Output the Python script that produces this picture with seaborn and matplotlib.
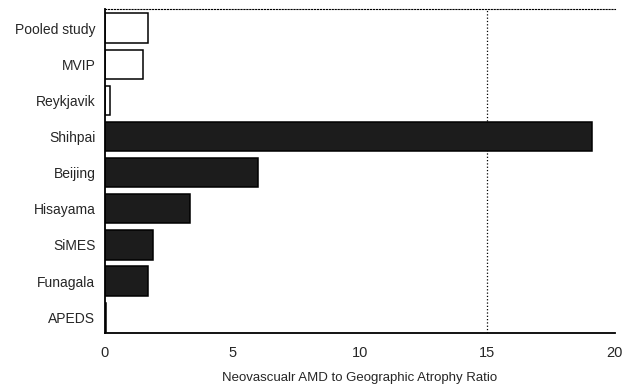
import matplotlib
matplotlib.use("Agg")
import matplotlib.pyplot as plt
import seaborn as sns
import pandas as pd

studies = ["Pooled study", "MVIP", "Reykjavik", "Shihpai", "Beijing",
           "Hisayama", "SiMES", "Funagala", "APEDS"]
ratios = [1.7, 1.5, 0.2, 19.1, 6.0, 3.35, 1.9, 1.7, 0.05]
groups = ["open", "open", "open", "filled", "filled", "filled", "filled", "filled", "filled"]
xticks = [0, 5, 10, 15, 20]

df = pd.DataFrame({"study": studies, "ratio": ratios, "group": groups})

sns.set_style("white")
plt.rcParams['font.family'] = ['Liberation Sans', 'DejaVu Sans']

fig = plt.figure(figsize=(6.23, 3.9), dpi=100)
ax = fig.add_axes([0.1685, 0.146, 0.8185, 0.831])

sns.barplot(data=df, y="study", x="ratio", hue="group", order=studies,
            palette={"open": "white", "filled": "#1c1c1c"}, dodge=False,
            edgecolor="black", linewidth=1.1, width=0.81, legend=False, ax=ax)

ax.axvline(15, color="black", linestyle=":", linewidth=0.9, zorder=0)

ax.set_xlim(0, 20)
ax.set_ylim(8.44, -0.53)
ax.set_xticks(xticks)
ax.set_xticklabels([str(t) for t in xticks], fontsize=10.5)
ax.tick_params(axis="x", direction="in", length=4, pad=9, width=1)
ax.tick_params(axis="y", length=0, labelsize=10, pad=7)
ax.set_ylabel("")
ax.set_xlabel("Neovascualr AMD to Geographic Atrophy Ratio", fontsize=9.5, labelpad=9)

for s in ["left", "bottom"]:
    ax.spines[s].set_visible(True)
    ax.spines[s].set_color("black")
    ax.spines[s].set_linewidth(1.3)
ax.spines["right"].set_visible(False)
ax.spines["top"].set_linestyle(":")
ax.spines["top"].set_color("black")
ax.spines["top"].set_linewidth(0.8)

fig.savefig("out.png", dpi=100)
